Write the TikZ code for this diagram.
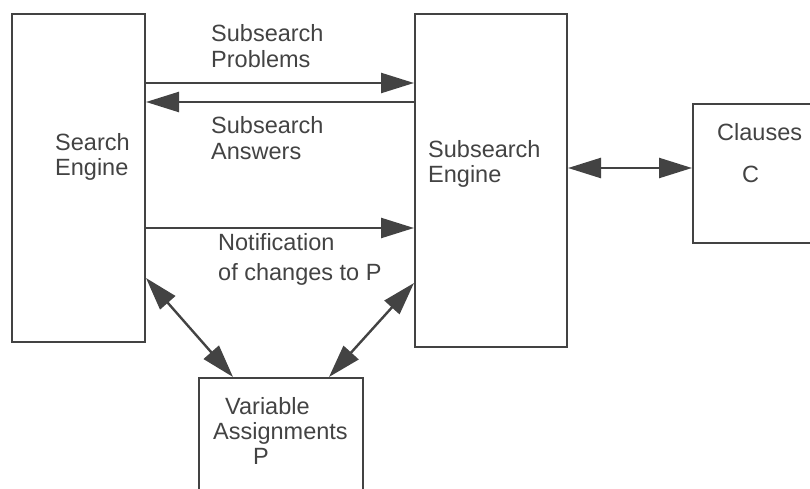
\documentclass[tikz,border=0pt]{standalone}
\usepackage{fontspec}
\setmainfont{Liberation Sans}
\usepackage{xcolor}
\usepackage{tikz}
\usetikzlibrary{arrows.meta}
\definecolor{ink}{HTML}{434343}
\tikzstyle{blk}=[draw=ink, line width=2pt, inner sep=0pt, anchor=north west]% plain box
\tikzstyle{lbl}=[inner sep=0pt, anchor=north west, align=left, text=ink,
font=\fontsize{23.5}{25}\selectfont]
\tikzstyle{flow}=[draw=ink, line width=2.4pt, >={Triangle[length=33pt,width=20pt]}]

\begin{document}
\begin{tikzpicture}[x=1pt,y=-1pt]
\clip (0,0) rectangle (810,489);
\node[blk, minimum width=133pt, minimum height=328pt] (se) at (11,13) {};
\node[blk, minimum width=152pt, minimum height=333pt] (sse) at (414,13) {};
\node[blk, minimum width=150pt, minimum height=139pt] (cl) at (692,103) {};
\node[blk, minimum width=164pt, minimum height=130pt] (va) at (198,377) {};
\node[lbl] (setxt) at (55,133) {Search\\Engine};
\node[lbl] (ssetxt) at (428,140) {Subsearch\\Engine};
\node[lbl] (cltxt) at (717,123) {Clauses\\[17pt]\hspace*{25pt}C};
\node[lbl] (vatxt) at (213,397) {\hspace*{12pt}Variable\\Assignments\\\hspace*{40pt}P};
\node[lbl] (prob) at (211,24) {Subsearch\\[1pt]Problems};
\node[lbl] (ans) at (211,116) {Subsearch\\[1pt]Answers};
\node[lbl] (notif) at (218,233) {Notification\\[5pt]of changes to P};
\draw[flow, ->] (se.east |- 0,83) -- (sse.west |- 0,83);
\draw[flow, ->] (sse.west |- 0,102) -- (se.east |- 0,102);
\draw[flow, ->] (se.east |- 0,228) -- (sse.west |- 0,228);
\draw[flow, <->] (se.east |- 0,278) -- ([xshift=35pt]va.north west);
\draw[flow, <->] (sse.west |- 0,283) -- ([xshift=-35pt]va.north east);
\draw[flow, <->] (sse.east |- 0,168) -- (cl.west |- 0,168);
\end{tikzpicture}
\end{document}
